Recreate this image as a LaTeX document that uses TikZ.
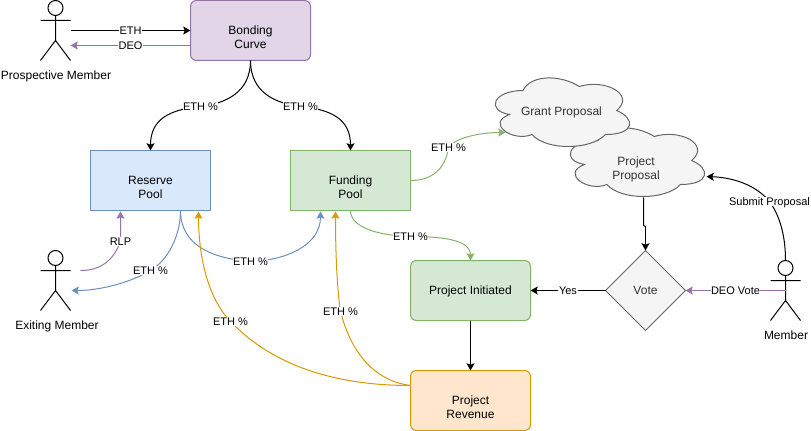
\documentclass[tikz,border=0pt]{standalone}
\usepackage{fontspec}
\setmainfont{Liberation Sans}
\usepackage{tikz}
\usetikzlibrary{arrows.meta,shapes.geometric}
\definecolor{purpleline}{HTML}{9673A6}
\definecolor{purplefill}{HTML}{E1D5E7}
\definecolor{blueline}{HTML}{6C8EBF}
\definecolor{bluefill}{HTML}{DAE8FC}
\definecolor{greenline}{HTML}{82B366}
\definecolor{greenfill}{HTML}{D5E8D4}
\definecolor{orangeline}{HTML}{D79B00}
\definecolor{orangefill}{HTML}{FFE6CC}
\definecolor{greyline}{HTML}{666666}
\definecolor{greyfill}{HTML}{F5F5F5}
\definecolor{greytext}{HTML}{333333}
\tikzset{
    box/.style={draw,minimum width=90pt,minimum height=45pt,inner sep=0pt,outer sep=0pt,align=center,font=\fontsize{9}{10.5}\selectfont},
    softbox/.style={box,rounded corners=4.5pt},
    tag/.style={fill=white,inner sep=0.4pt,text depth=0pt,font=\fontsize{8.25}{10}\selectfont},
    caption/.style={inner sep=0pt,text depth=0pt,font=\fontsize{9}{10.5}\selectfont},
    actor/.style={minimum width=22.5pt,minimum height=45pt,inner sep=0pt,outer sep=0pt},
    flow/.style={-{Stealth[length=5.5pt,width=6pt,inset=1.2pt]}},
}
\newcommand{\stickman}[2]{
    \draw[shift={(#1-15,#2-30)}] (15,7.5) circle[radius=7.5] (15,15) -- (15,40) (0,20) -- (30,20) (0,60) -- (15,40) -- (30,60);
}
\begin{document}
\begin{tikzpicture}[x=0.75pt,y=-0.75pt,line width=0.75pt]
    \useasboundingbox (-0.5,-0.5) rectangle (810.5,430.5);
    % clouds, the lower one first
    \foreach \cx/\cy in {560/120,485/70}
        \draw[greyline,fill=greyfill,shift={(\cx,\cy)}] (37.5,20) .. controls (7.5,20) and (0,40) .. (24,44)
            .. controls (0,52.8) and (27,72) .. (46.5,64)
            .. controls (60,80) and (105,80) .. (120,64)
            .. controls (150,64) and (150,48) .. (131.25,40)
            .. controls (150,24) and (120,8) .. (93.75,16)
            .. controls (75,4) and (45,4) .. (37.5,20) -- cycle;
    \node[caption,text=greytext] (gp) at (561,110.5) {Grant Proposal};
    \node[caption,text=greytext,align=center] (pp) at (635.5,160) {~\\[6.8pt]Project\\Proposal};

    % boxes
    \node[softbox,draw=purpleline,fill=purplefill] (bc) at (250,30) {~\\[6.8pt]Bonding\\Curve};
    \node[box,draw=blueline,fill=bluefill] (rp) at (150,180) {~\\[6.8pt]Reserve\\Pool};
    \node[box,draw=greenline,fill=greenfill] (fp) at (350,180) {~\\[6.8pt]Funding\\Pool};
    \node[softbox,draw=greenline,fill=greenfill,text depth=0pt] (pi) at (470,290) {Project Initiated};
    \node[softbox,draw=orangeline,fill=orangefill] (pr) at (470,400) {~\\[6.8pt]Project\\Revenue};
    \node[diamond,draw=greyline,fill=greyfill,text=greytext,minimum width=60pt,minimum height=60pt,inner sep=0pt,outer sep=0pt,font=\fontsize{9}{10.5}\selectfont] (vt) at (645,290) {Vote};

    % members
    \node[actor] (pm) at (55,30) {};
    \node[actor] (em) at (55,280) {};
    \node[actor] (mb) at (785,290) {};
    \stickman{55}{30}
    \stickman{55}{280}
    \stickman{785}{290}
    \node[caption] (pmtxt) at (55.5,75) {Prospective Member};
    \node[caption] (emtxt) at (56.5,325) {Exiting Member};
    \node[caption] (mbtxt) at (785.5,335) {Member};

    % free ends of the connectors
    \coordinate (pmeth) at (70,30);
    \coordinate (pmdeo) at (70,45);
    \coordinate (bcdeo) at (190,45);
    \coordinate (fpout) at (350,210);
    \coordinate (rpout) at (180,210);
    \coordinate (rprlp) at (120,211);
    \coordinate (rprev) at (198,211);
    \coordinate (fpin) at (320,211);
    \coordinate (fprev) at (335,211);
    \coordinate (emin) at (71,290);
    \coordinate (emrlp) at (80,270);
    \coordinate (prout) at (410,385);
    \coordinate (gpin) at (505,132);
    \coordinate (ppin) at (706,176);
    \coordinate (ppout) at (643,197);
    \coordinate (vtin) at (645,226);

    \draw[flow] (pmeth) -- node[tag] {ETH} (bc.west);
    \draw[flow,purpleline] (bcdeo) -- node[tag,text=black] {DEO} (pmdeo);
    \draw[flow] (bc.south) .. controls (250,92) and (225,103) .. (200,106) node[tag] {ETH \%}
        .. controls (170,109) and (150,118) .. (rp.north);
    \draw[flow] (bc.south) .. controls (250,92) and (275,103) .. (300,106) node[tag] {ETH \%}
        .. controls (330,109) and (350,118) .. (fp.north);

    \draw[flow,purpleline] (emrlp) .. controls (100,270) and (113,260) .. (120,241) node[tag,text=black] {RLP} -- (rprlp);
    \draw[flow,blueline] (rpout) .. controls (180,236) and (167,260) .. (150,270) node[tag,text=black] {ETH \%}
        .. controls (130,282) and (100,290) .. (emin);
    \draw[flow,blueline] (rpout) .. controls (180,245) and (212,258) .. (250,261) node[tag,text=black] {ETH \%}
        .. controls (285,260) and (320,245) .. (fpin);
    \draw[flow,orangeline] (prout) .. controls (340,385) and (275,368) .. (230,321) node[tag,text=black] {ETH \%}
        .. controls (205,295) and (198,250) .. (rprev);
    \draw[flow,orangeline] (prout) .. controls (372,380) and (350,350) .. (340,311) node[tag,text=black] {ETH \%}
        .. controls (336,285) and (335,245) .. (fprev);

    \draw[flow,greenline] (fp.east) .. controls (432,180) and (445,168) .. (448,147) node[tag,text=black] {ETH \%}
        .. controls (455,137) and (480,132) .. (gpin);
    \draw[flow,greenline] (fpout) .. controls (350,226) and (375,235) .. (410,236) node[tag,text=black] {ETH \%}
        .. controls (445,236) and (470,240) .. (pi.north);

    \draw (ppout) -- (643,225) -- (vtin);
    \draw[flow] (vtin) -- (vt.north);
    \draw[flow] (mb.north) .. controls (785,237) and (780,216) .. (769,201) node[tag] {Submit Proposal}
        .. controls (755,184) and (732,177) .. (ppin);
    \draw[flow] (vt.west) -- node[tag] {Yes} (pi.east);
    \draw[flow,purpleline] (mb.center) -- node[tag,text=black] {DEO Vote} (vt.east);
    \draw[flow] (pi.south) -- (pr.north);
\end{tikzpicture}
\end{document}
